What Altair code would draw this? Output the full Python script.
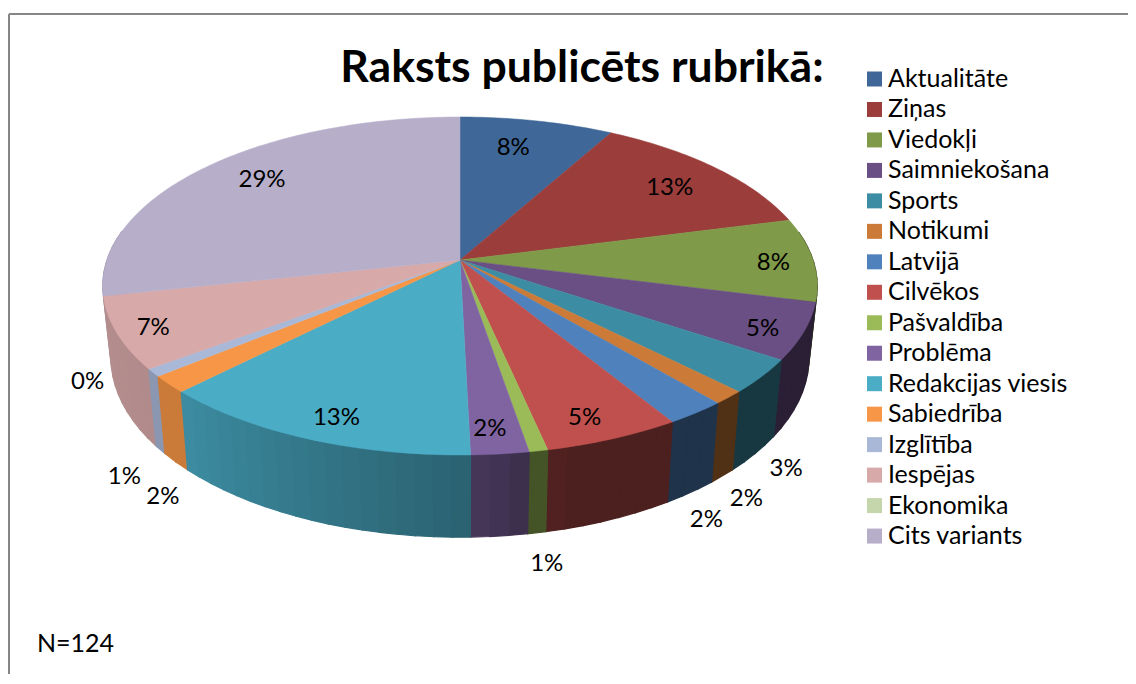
import math
import altair as alt
import pandas as pd
import numpy as np

categories = ["Aktualitāte", "Ziņas", "Viedokļi", "Saimniekošana", "Sports", "Notikumi",
              "Latvijā", "Cilvēkos", "Pašvaldība", "Problēma", "Redakcijas viesis",
              "Sabiedrība", "Izglītība", "Iespējas", "Ekonomika", "Cits variants"]
values = [10, 16, 9.9, 6.7, 4, 1.6, 2.95, 6.65, 0.9, 2.8, 15.9, 2.0, 0.9, 8.5, 0, 35.2]
pct_labels = ["8%", "13%", "8%", "5%", "3%", "2%", "2%", "5%", "1%", "2%", "13%", "2%", "1%", "7%", "0%", "29%"]
colors = ["#3F6797", "#9A3D3B", "#7F9A48", "#694F83", "#3C8DA3", "#CB7B37", "#4F81BD", "#C0504D",
          "#9BBB59", "#8064A2", "#4BACC6", "#F79646", "#A9B8D6", "#D7A9A9", "#C6D6AC", "#B7AECA"]

# label placement: on the wall's outer edge or on the face, then a nudge
label_outer = [False, False, False, False, True, True, True, False, True, False, False, True, True, False, True, False]
label_nudge = [(-10, 2), (2, 3), (31, 3), (31, 13), (31, 15), (24, 23), (16, 28), (6, 20),
               (10, 31), (-1, 19), (-6, 19), (-13, 35), (-36, 27), (-36, 10), (-24, 14), (6, -3)]

# 3-D pie camera
CX, CY, RX, RY, K = 460, 260, 353, 165, 0.1538
WALL_SX, WALL_SY, WALL_DY = 0.977, 1.0625, 70


def top(deg, r=1.0):
    t = math.radians(deg)
    u, v = r * math.sin(t), r * math.cos(t)
    d = 1 + K * v
    return CX + RX * u / d, CY - RY * v / d


def bottom(deg):
    x, y = top(deg)
    return CX + WALL_SX * (x - CX), CY + WALL_DY + WALL_SY * (y - CY)


def shade(hex_color, deg):
    f = float(np.interp(deg, [80, 165, 180, 225, 280], [0.40, 0.40, 0.58, 0.82, 0.86]))
    rgb = [int(hex_color[i:i + 2], 16) for i in (1, 3, 5)]
    return "#%02x%02x%02x" % tuple(int(c * f) for c in rgb)


total = sum(values)
edges = [0.0]
for val in values:
    edges.append(edges[-1] + val / total * 360)

face_rows, tile_rows, label_rows = [], [], []
tiles = []
for i, name in enumerate(categories):
    a0, a1 = edges[i], edges[i + 1]
    if a1 > a0:
        n = max(2, int((a1 - a0) / 1.0))
        pts = [(CX, CY)] + [top(a0 + (a1 - a0) * j / n) for j in range(n + 1)] + [(CX, CY)]
        for o, (x, y) in enumerate(pts):
            face_rows.append({"cat": name, "o": o, "x": x, "y": y, "hex": colors[i]})
        lo, hi = max(a0, 80), min(a1, 280)
        if hi > lo:
            m = max(1, int((hi - lo) / 2.5))
            for j in range(m):
                tiles.append((i, lo + (hi - lo) * j / m, lo + (hi - lo) * (j + 1) / m))
    mid = (a0 + a1) / 2
    bx, by = bottom(mid) if label_outer[i] else top(mid, 0.8)
    label_rows.append({"x": bx + label_nudge[i][0], "y": by + label_nudge[i][1], "t": pct_labels[i]})

tiles.sort(key=lambda tl: -abs((tl[1] + tl[2]) / 2 - 180))
for tid, (i, d0, d1) in enumerate(tiles):
    hexc = shade(colors[i], (d0 + d1) / 2)
    quad = [top(d0), top(d1), bottom(d1), bottom(d0), top(d0)]
    for o, (x, y) in enumerate(quad):
        tile_rows.append({"tile": tid, "o": o, "x": x, "y": y, "hex": hexc})

X = alt.X("x:Q", scale=alt.Scale(domain=[8, 1128], nice=False, zero=False), axis=None)
Y = alt.Y("y:Q", scale=alt.Scale(domain=[674, 8], nice=False, zero=False), axis=None)

walls = alt.Chart(pd.DataFrame(tile_rows)).mark_line(filled=True, strokeWidth=1.2).encode(
    x=X, y=Y, order=alt.Order("o:Q"), detail="tile:N",
    fill=alt.Fill("hex:N", scale=None), stroke=alt.Stroke("hex:N", scale=None))

faces = alt.Chart(pd.DataFrame(face_rows)).mark_line(filled=True, strokeWidth=0.5).encode(
    x=X, y=Y, order=alt.Order("o:Q"), detail="cat:N",
    fill=alt.Fill("hex:N", scale=None), stroke=alt.Stroke("hex:N", scale=None))

# the legend comes from an invisible point per category
legend_df = pd.DataFrame({"cat": categories, "x": [CX] * len(categories), "y": [CY] * len(categories)})
legend_layer = alt.Chart(legend_df).mark_point(filled=True, size=0, opacity=1).encode(
    x=X, y=Y,
    color=alt.Color("cat:N", scale=alt.Scale(domain=categories, range=colors), sort=categories, title=None,
                    legend=alt.Legend(orient="none", legendX=854, legendY=58.5, symbolType="square",
                                      symbolSize=225, symbolStrokeWidth=0, labelFont="Lato",
                                      labelFontSize=25, labelColor="black", labelOffset=1,
                                      rowPadding=4.47, labelLimit=300, padding=0, values=categories)))

labels = alt.Chart(pd.DataFrame(label_rows)).mark_text(
    font="Lato", fontSize=24, color="black", align="center", baseline="middle").encode(
    x=X, y=Y, text="t:N")

extras = pd.DataFrame([{"x": 582, "y": 69, "t": "Raksts publicēts rubrikā:"}])
title = alt.Chart(extras).mark_text(font="Lato", fontSize=44.5, fontWeight="bold", color="black",
                                    align="center", baseline="middle").encode(x=X, y=Y, text="t:N")
note = alt.Chart(pd.DataFrame([{"x": 37, "y": 644, "t": "N=124"}])).mark_text(
    font="Lato", fontSize=25, color="black", align="left", baseline="middle").encode(x=X, y=Y, text="t:N")

frame_rows = pd.DataFrame([{"x": 9, "x2": 1128, "y": 14, "y2": 14}, {"x": 9, "x2": 9, "y": 14, "y2": 674}])
frame = alt.Chart(frame_rows).mark_rule(color="#868686", strokeWidth=2).encode(
    x=X, x2="x2:Q", y=Y, y2="y2:Q")

chart = alt.layer(frame, walls, faces, labels, title, note, legend_layer).properties(
    width=1120, height=666, padding=0, autosize=alt.AutoSizeParams(type="none"),
    background="white").configure_view(stroke=None)

chart.save("out.html", embed_options={"renderer": "svg", "actions": False})
